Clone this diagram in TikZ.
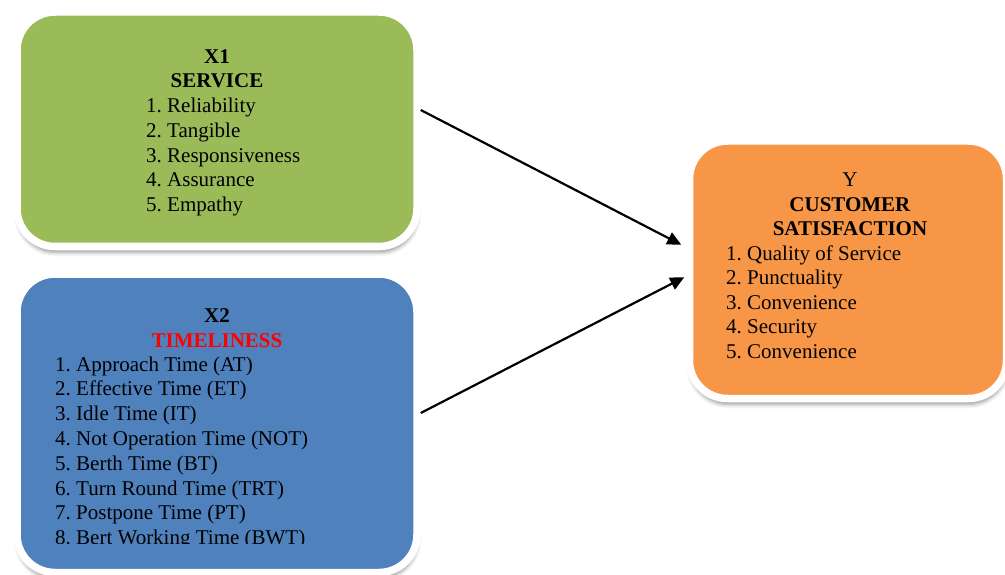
\documentclass[tikz,border=0pt]{standalone}
\usepackage{fontspec}
\setmainfont{Liberation Serif}
\usetikzlibrary{arrows.meta,shadows.blur}
\definecolor{boxgreen}{HTML}{9BBB59}
\definecolor{boxblue}{HTML}{4F81BD}
\definecolor{boxorange}{HTML}{F79646}
\frenchspacing
\begin{document}
\begin{tikzpicture}[x=1pt,y=-1pt,
  box/.style={draw=white, line width=7.5pt, rounded corners=38pt, inner sep=0pt,
    blur shadow={shadow xshift=0.5pt, shadow yshift=-6pt, shadow blur radius=4pt, shadow opacity=40}},
  txt/.style={font=\fontsize{21}{24.8}\selectfont\frenchspacing, inner sep=0pt, text=black},
  title/.style={txt, align=center, anchor=base},
  items/.style={txt, align=left, anchor=base west},
  link/.style={line width=2.2pt, -{Triangle[length=14pt,width=13pt]}}]
\useasboundingbox (0,0) rectangle (1005,575);
% boxes
\node[box, fill=boxgreen, minimum width=400pt, minimum height=234.5pt] (b1) at (217,129.25) {};
\node[box, fill=boxblue, minimum width=400pt, minimum height=298.5pt] (b2) at (217,423.25) {};
\node[box, fill=boxorange, minimum width=317pt, minimum height=257.5pt] (b3) at (848,269.75) {};
% box 1 text (anchored at the baseline of the last line)
\node[title] (t1) at (217,88) {\textbf{X1}\\\textbf{SERVICE}};
\node[items] (l1) at (146,211.7) {1. Reliability\\2. Tangible\\3. Responsiveness\\4. Assurance\\5. Empathy};
% box 2 text
\node[title] (t2) at (217,347) {\textbf{X2}\\\textbf{\textcolor{red}{TIMELINESS}}};
\begin{scope}
\clip (0,0) rectangle (1005,543.5);
\node[items] (l2) at (55,544.6) {1. Approach Time (AT)\\2. Effective Time (ET)\\3. Idle Time (IT)\\4. Not Operation Time (NOT)\\5. Berth Time (BT)\\6. Turn Round Time (TRT)\\7. Postpone Time (PT)\\8. Bert Working Time (BWT)};
\end{scope}
% box 3 text
\node[title, font=\fontsize{21}{24.5}\selectfont] (t3) at (850,236) {Y\\\textbf{CUSTOMER}\\\textbf{SATISFACTION}};
\node[items, font=\fontsize{21}{24.5}\selectfont\frenchspacing] (l3) at (726,358) {1. Quality of Service\\2. Punctuality\\3. Convenience\\4. Security\\5. Convenience};
% connectors
\draw[link] ([yshift=19.25pt]b1.east) -- ([xshift=-4.5pt,yshift=25pt]b3.west);
\draw[link] ([yshift=10.25pt]b2.east) -- ([xshift=-1.5pt,yshift=-7.5pt]b3.west);
\end{tikzpicture}
\end{document}
